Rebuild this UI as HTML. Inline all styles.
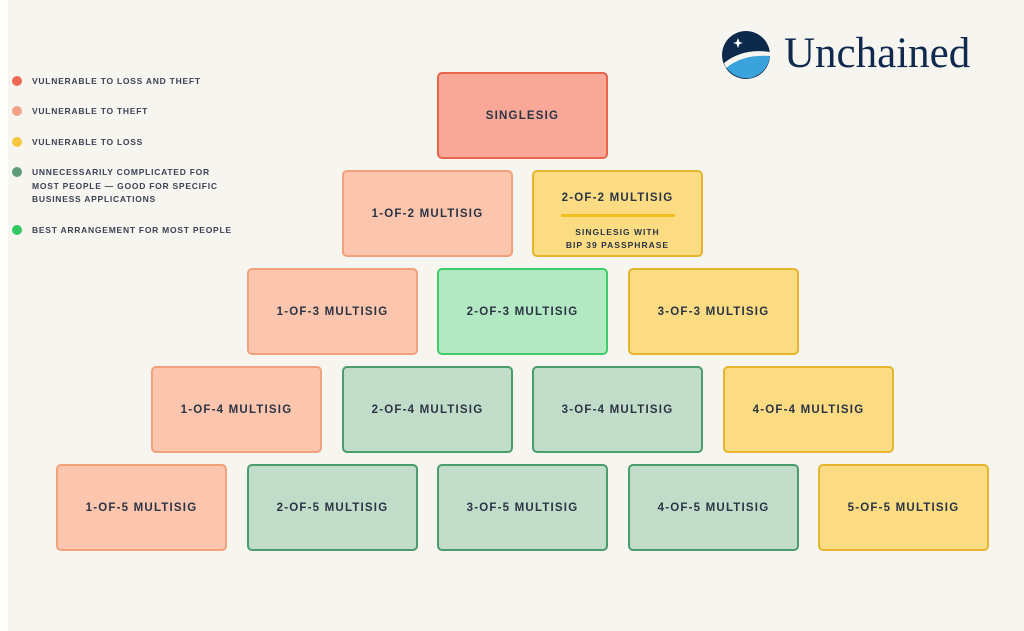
<!DOCTYPE html>
<html><head><style>
body{margin:0;width:1024px;height:631px;background:#f7f5f0;position:relative;overflow:hidden;font-family:"Liberation Sans",sans-serif;}
.edge{position:absolute;left:0;top:0;width:8px;height:631px;background:#fdfdfc}
.b{position:absolute;width:167px;height:83px;border:2.5px solid;border-radius:5px;display:flex;align-items:center;justify-content:center;font-weight:bold;font-size:11.5px;letter-spacing:1.2px;color:#2b3445;box-sizing:content-box}
.r{background:#f9a898;border-color:#e8654e}
.o{background:#fbc6ad;border-color:#f3a07c}
.y{background:#fbdc82;border-color:#e6b52e}
.g{background:#b3e9c2;border-color:#3fcd6a}
.d{background:#c1dcc9;border-color:#4b9c6c}
.lg{position:absolute;left:12px;font-size:8.5px;font-weight:bold;letter-spacing:0.75px;color:#3a4254;line-height:13.5px}
.lg i{position:absolute;left:0;top:1px;width:10px;height:10px;border-radius:50%}
.lg span{display:block;margin-left:20px}
</style></head><body>
<div class="edge"></div>
<div class="lg" style="top:75px"><i style="background:#ec6a55"></i><span>VULNERABLE TO LOSS AND THEFT</span></div>
<div class="lg" style="top:105px"><i style="background:#f3a386"></i><span>VULNERABLE TO THEFT</span></div>
<div class="lg" style="top:136px"><i style="background:#f6c83c"></i><span>VULNERABLE TO LOSS</span></div>
<div class="lg" style="top:166px"><i style="background:#5e9c78"></i><span>UNNECESSARILY COMPLICATED FOR<br>MOST PEOPLE — GOOD FOR SPECIFIC<br>BUSINESS APPLICATIONS</span></div>
<div class="lg" style="top:224px"><i style="background:#33c862"></i><span>BEST ARRANGEMENT FOR MOST PEOPLE</span></div>

<svg style="position:absolute;left:721px;top:30px" width="52" height="50" viewBox="0 0 52 50">
<circle cx="25" cy="25" r="24" fill="#0d2a4d"/>
<path d="M3 34 Q20 22 49 24 Q48 42 30 48 Q12 50 3 34Z" fill="#3ba3dc"/>
<path d="M3 33 Q22 18 49 22 L49 26 Q22 24 5 38Z" fill="#f7f5f0"/>
<path d="M17 8 L18.5 12 L22 13 L18.5 14 L17 18 L15.5 14 L12 13 L15.5 12Z" fill="#fff"/>
</svg>
<div style="position:absolute;left:784px;top:29px;font-family:'Liberation Serif',serif;font-size:43px;color:#0f2a4e;letter-spacing:0px">Unchained</div>

<div class="b r" style="left:437px;top:72px">SINGLESIG</div>
<div class="b o" style="left:342px;top:170px">1-OF-2 MULTISIG</div>
<div class="b y" style="left:532px;top:170px;flex-direction:column;justify-content:flex-start">
<div style="margin-top:20px">2-OF-2 MULTISIG</div>
<div style="width:114px;height:3px;background:#f3bf1d;margin:10px 0 9px"></div>
<div style="font-size:8.5px;line-height:13px;text-align:center;letter-spacing:1px">SINGLESIG WITH<br>BIP 39 PASSPHRASE</div></div>
<div class="b o" style="left:247px;top:268px">1-OF-3 MULTISIG</div>
<div class="b g" style="left:437px;top:268px">2-OF-3 MULTISIG</div>
<div class="b y" style="left:628px;top:268px">3-OF-3 MULTISIG</div>
<div class="b o" style="left:151px;top:366px">1-OF-4 MULTISIG</div>
<div class="b d" style="left:342px;top:366px">2-OF-4 MULTISIG</div>
<div class="b d" style="left:532px;top:366px">3-OF-4 MULTISIG</div>
<div class="b y" style="left:723px;top:366px">4-OF-4 MULTISIG</div>
<div class="b o" style="left:56px;top:464px">1-OF-5 MULTISIG</div>
<div class="b d" style="left:247px;top:464px">2-OF-5 MULTISIG</div>
<div class="b d" style="left:437px;top:464px">3-OF-5 MULTISIG</div>
<div class="b d" style="left:628px;top:464px">4-OF-5 MULTISIG</div>
<div class="b y" style="left:818px;top:464px">5-OF-5 MULTISIG</div>
</body></html>
